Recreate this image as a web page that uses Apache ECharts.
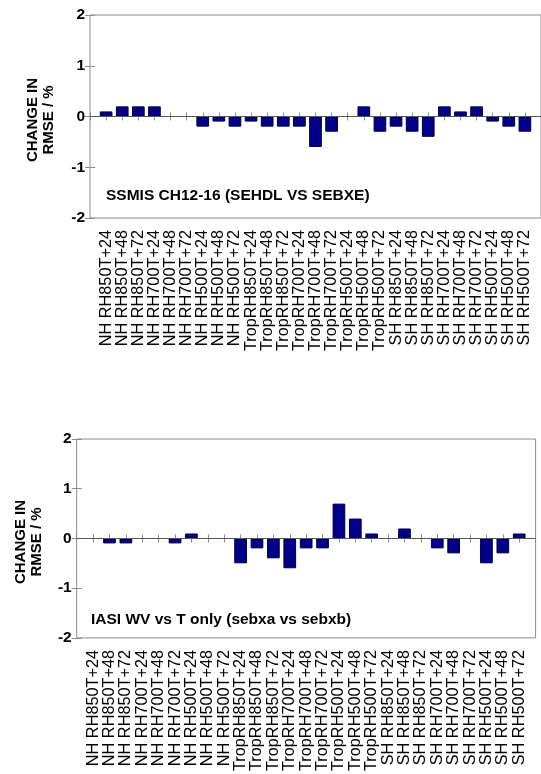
<!DOCTYPE html>
<html>
<head>
<meta charset="utf-8">
<script src="https://cdn.jsdelivr.net/npm/echarts@6/dist/echarts.min.js"></script>
<style>
  html, body { margin: 0; padding: 0; background: #fff; }
  #chart { width: 541px; height: 774px; }
</style>
</head>
<body>
<div id="chart"></div>
<script>
// categories along the x axis (plotted at positions 1..27, axis runs 0..28)
const categories = [
  'NH RH850T+24', 'NH RH850T+48', 'NH RH850T+72',
  'NH RH700T+24', 'NH RH700T+48', 'NH RH700T+72',
  'NH RH500T+24', 'NH RH500T+48', 'NH RH500T+72',
  'TropRH850T+24', 'TropRH850T+48', 'TropRH850T+72',
  'TropRH700T+24', 'TropRH700T+48', 'TropRH700T+72',
  'TropRH500T+24', 'TropRH500T+48', 'TropRH500T+72',
  'SH RH850T+24', 'SH RH850T+48', 'SH RH850T+72',
  'SH RH700T+24', 'SH RH700T+48', 'SH RH700T+72',
  'SH RH500T+24', 'SH RH500T+48', 'SH RH500T+72'
]

// change in RMSE / %  (null = no bar drawn)
const ssmisValues = [
  0.1, 0.2, 0.2, 0.2, null, null, -0.2, -0.1, -0.2,
  -0.1, -0.2, -0.2, -0.2, -0.6, -0.3, null, 0.2, -0.3,
  -0.2, -0.3, -0.4, 0.2, 0.1, 0.2, -0.1, -0.2, -0.3
]
const iasiValues = [
  null, -0.1, -0.1, null, null, -0.1, 0.1, null, null,
  -0.5, -0.2, -0.4, -0.6, -0.2, -0.2, 0.7, 0.4, 0.1,
  null, 0.2, null, -0.2, -0.3, null, -0.5, -0.3, 0.1
]
const yMin = -2
const yMax = 2

const titles = ['SSMIS CH12-16 (SEHDL VS SEBXE)', 'IASI WV vs T only (sebxa vs sebxb)']
const yName = 'CHANGE IN\nRMSE / %'

const chart = echarts.init(document.getElementById('chart'))

const FONT = 'Liberation Sans, Arial, Helvetica, sans-serif'
const frameColor = '#8c8c8c'

function xAxes(gridIndex) {
  const base = {
    gridIndex,
    type: 'value',
    min: 0,
    max: categories.length + 1,
    interval: 1,
    axisLine: { show: false },
    axisTick: { show: true, inside: true, length: 4, lineStyle: { color: frameColor } },
    splitLine: { show: false }
  }
  return [
    Object.assign({}, base, {
      position: 'bottom',
      axisLabel: {
        rotate: 90,
        margin: 12,
        fontSize: 16.3,
        fontFamily: FONT,
        color: '#000',
        formatter: v => categories[v - 1] || ''
      }
    }),
    Object.assign({}, base, { position: 'top', axisLabel: { show: false } })
  ]
}

function yAxes(gridIndex) {
  const base = {
    gridIndex,
    type: 'value',
    min: yMin,
    max: yMax,
    interval: 1,
    axisLine: { show: false },
    axisTick: { show: true, inside: true, length: 5, lineStyle: { color: frameColor } },
    splitLine: { show: false }
  }
  return [
    Object.assign({}, base, {
      position: 'left',
      axisLabel: {
        margin: 5,
        fontSize: 15.5,
        fontWeight: 'bold',
        fontFamily: FONT,
        color: '#000'
      }
    }),
    Object.assign({}, base, { position: 'right', axisLabel: { show: false } })
  ]
}

function barSeries(values, axisIndex) {
  return {
    type: 'bar',
    xAxisIndex: axisIndex,
    yAxisIndex: axisIndex,
    barWidth: 12.7,
    data: values.map((v, i) => [i + 1, v == null ? '-' : v]),
    itemStyle: { color: '#00008a', borderColor: '#00003c', borderWidth: 1 },
    markLine: {
      silent: true,
      symbol: 'none',
      label: { show: false },
      lineStyle: { color: '#555', width: 1, type: 'solid' },
      data: [{ yAxis: 0 }]
    }
  }
}

function textEl(text, x, y) {
  return {
    type: 'text',
    x, y,
    style: {
      text,
      font: 'bold 15.5px ' + FONT,
      fill: '#000',
      textAlign: 'left',
      textVerticalAlign: 'middle'
    }
  }
}

function nameEl(x, y) {
  return {
    type: 'text', x, y, rotation: Math.PI / 2,
    style: { text: yName, font: 'bold 15px ' + FONT, lineHeight: 16, fill: '#000', textAlign: 'center', textVerticalAlign: 'middle' }
  }
}

chart.setOption({
  animation: false,
  backgroundColor: '#fff',
  grid: [
    { left: 90, top: 15, height: 203, right: -8, show: true, borderColor: frameColor, borderWidth: 1 },
    { left: 76.7, top: 439, height: 202, right: 5.4, show: true, borderColor: frameColor, borderWidth: 1 }
  ],
  xAxis: [...xAxes(0), ...xAxes(1)],
  yAxis: [...yAxes(0), ...yAxes(1)],
  series: [barSeries(ssmisValues, 0), barSeries(iasiValues, 2)],
  graphic: [
    textEl(titles[0], 106, 196),
    textEl(titles[1], 91, 620),
    nameEl(41, 120),
    nameEl(28.5, 542)
  ]
})
</script>
</body>
</html>
